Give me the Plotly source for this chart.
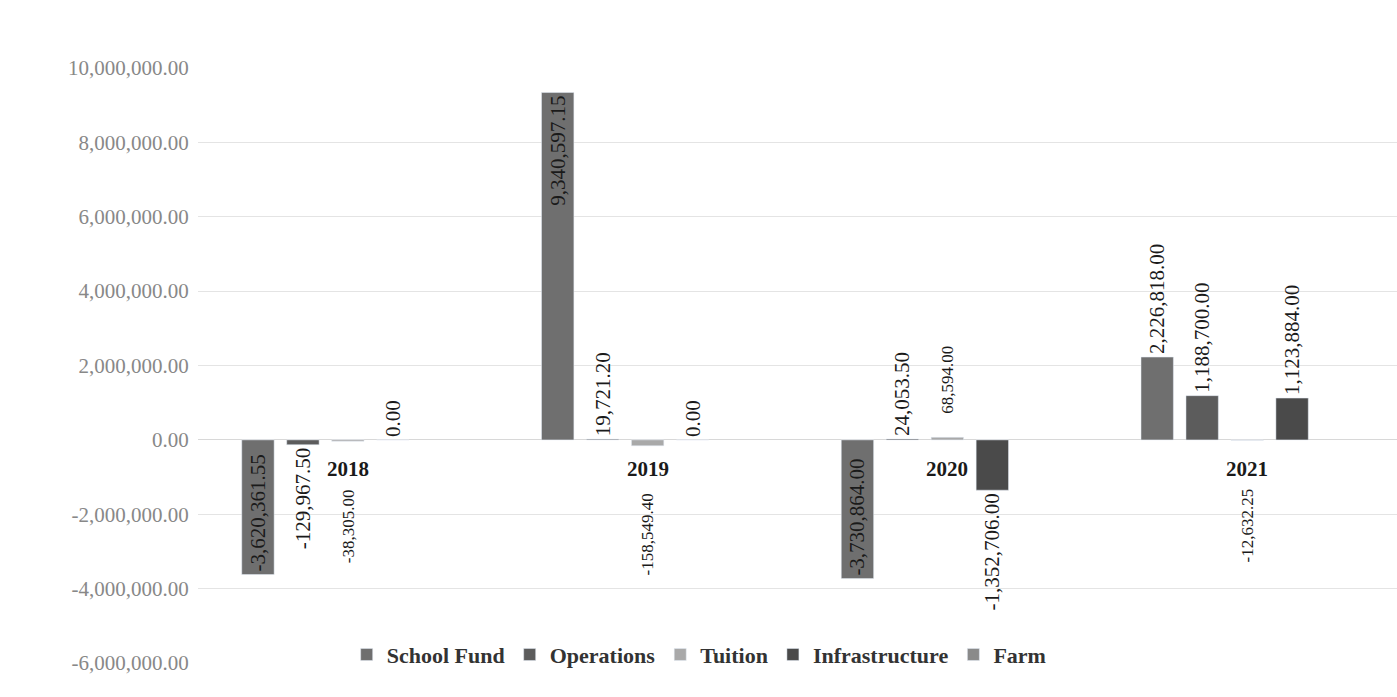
import plotly.graph_objects as go

years = ["2018", "2019", "2020", "2021"]
school_fund = [-3620361.55, 9340597.15, -3730864.00, 2226818.00]
operations = [-129967.50, 19721.20, 24053.50, 1188700.00]
tuition = [-38305.00, -158549.40, 68594.00, -12632.25]
infrastructure = [0.00, 0.00, -1352706.00, 1123884.00]
farm = [None, None, None, None]

y_tickvals = [-6000000, -4000000, -2000000, 0, 2000000, 4000000, 6000000, 8000000, 10000000]
y_ticktext = ["-6,000,000.00", "-4,000,000.00", "-2,000,000.00", "0.00", "2,000,000.00",
              "4,000,000.00", "6,000,000.00", "8,000,000.00", "10,000,000.00"]

def labels(vals):
    return ["" if v is None else f"{v:,.2f}" for v in vals]

SERIF = "Liberation Serif, Times New Roman, serif"
LBL = dict(family=SERIF, size=21, color="#1a1a1a")

fig = go.Figure()
fig.add_trace(go.Bar(name="School Fund", x=years, y=school_fund, marker_color="#6f6f6f",
                     text=labels(school_fund), textposition=["inside", "inside", "inside", "outside"],
                     insidetextanchor="end", textangle=-90, textfont=LBL))
fig.add_trace(go.Bar(name="Operations", x=years, y=operations, marker_color="#5c5c5c",
                     text=labels(operations), textposition="outside", textangle=-90, textfont=LBL))
fig.add_trace(go.Bar(name="Tuition", x=years, y=tuition, marker_color="#a9a9a9"))
fig.add_trace(go.Bar(name="Infrastructure", x=years, y=infrastructure, marker_color="#4a4a4a",
                     text=labels(infrastructure), textposition="outside", textangle=-90, textfont=LBL))
fig.add_trace(go.Bar(name="Farm", x=years, y=farm, marker_color="#8a8a8a"))

fig.update_traces(selector=dict(type="bar"), cliponaxis=False, constraintext="none")

# Tuition labels (centre bar of each group), kept clear of the year labels
for i, (v, t) in enumerate(zip(tuition, labels(tuition))):
    fig.add_annotation(x=i, y=v, xref="x", yref="y", text=t, showarrow=False, textangle=-90,
                       yanchor="top" if v < 0 else "bottom", yshift=-46 if v < 0 else 22,
                       font=dict(family=SERIF, size=17, color="#1a1a1a"))

# Category labels sitting just below the zero line
for i, yr in enumerate(years):
    fig.add_annotation(x=i, y=0, xref="x", yref="y", text="<b>" + yr + "</b>", showarrow=False,
                       yanchor="top", yshift=-15,
                       font=dict(family=SERIF, size=21, color="#1a1a1a"))

fig.update_layout(
    width=1397, height=697,
    margin=dict(l=198, r=0, t=68, b=34),
    paper_bgcolor="white", plot_bgcolor="white",
    barmode="group", bargap=0.25, bargroupgap=0.28,
    showlegend=True,
    legend=dict(orientation="h", x=0.418, xanchor="center", y=0.014, yanchor="middle",
                bgcolor="rgba(0,0,0,0)",
                font=dict(family=SERIF, size=22, color="#333", weight="bold")),
    font=dict(family=SERIF),
    xaxis=dict(type="category", range=[-0.5, 3.5], categoryorder="array", categoryarray=years,
               showticklabels=False, showgrid=False, zeroline=False,
               showline=False, ticks=""),
    yaxis=dict(range=[-6000000, 10000000], tickvals=y_tickvals, ticktext=y_ticktext,
               showgrid=True, gridcolor="#e4e4e4", gridwidth=1,
               zeroline=True, zerolinecolor="#d8d8d8", zerolinewidth=1,
               tickfont=dict(family=SERIF, size=21, color="#888"), ticklen=4, ticks="outside",
               tickcolor="rgba(0,0,0,0)", automargin=False),
)

fig.write_html("out.html")
